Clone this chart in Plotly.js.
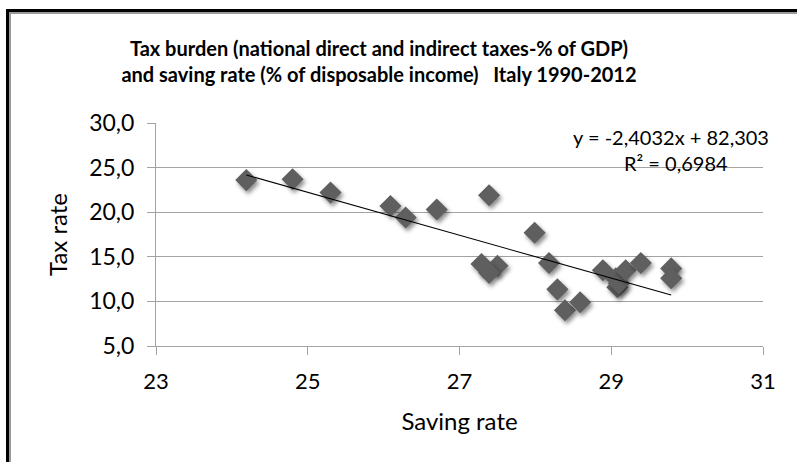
<!DOCTYPE html>
<html>
<head>
<meta charset="utf-8">
<script src="https://cdn.plot.ly/plotly-3.0.1.min.js"></script>
<style>
  html, body { margin: 0; padding: 0; background: #fff; }
  #wrap { position: relative; width: 797px; height: 462px; overflow: hidden; }
  #chart { position: absolute; left: 0; top: 0; width: 797px; height: 462px; }
  #frameOuter { position: absolute; left: 6px; top: 9px; right: -10px; bottom: -10px;
    border-left: 3px solid #000; border-top: 3px solid #000; pointer-events: none; }
  #frameInner { position: absolute; left: 9px; top: 12px; right: -10px; bottom: -10px;
    border-left: 2px solid #9a9a9a; border-top: 2px solid #9a9a9a; pointer-events: none; }
  .scatterlayer .points path { filter: drop-shadow(2px 3px 2px rgba(0,0,0,0.45)); }
</style>
</head>
<body>
<div id="wrap">
  <div id="chart"></div>
  <div id="frameOuter"></div>
  <div id="frameInner"></div>
</div>
<script>
// Saving rate (% of disposable income) and tax burden (% of GDP), Italy 1990-2012
const savingRate = [24.19, 24.80, 25.30, 26.09, 26.29, 26.70, 27.39, 27.29, 27.50, 27.39, 27.99, 28.18,
                    28.29, 28.39, 28.59, 28.89, 29.06, 29.08, 29.10, 29.19, 29.39, 29.79, 29.79];
const taxRate    = [23.6, 23.7, 22.2, 20.7, 19.4, 20.3, 21.9, 14.2, 14.0, 13.2, 17.7, 14.3,
                    11.35, 9.0, 9.9, 13.5, 12.6, 11.6, 12.0, 13.5, 14.3, 13.7, 12.6];
// Linear trendline as printed on the chart
const trendSlope = -2.4032;
const trendIntercept = 82.303;
const equationLines = ["y = -2,4032x + 82,303", "R² = 0,6984"];
const titleLines = ["Tax burden (national direct and indirect taxes-% of GDP)",
                    "and saving rate (% of disposable income)   Italy 1990-2012"];
const xTitle = "Saving rate";
const yTitle = "Tax rate";

const xMin = Math.min(...savingRate), xMax = Math.max(...savingRate);
const trendX = [xMin, xMax];
const trendY = trendX.map(v => trendSlope * v + trendIntercept);

const FONT = "Lato, 'Open Sans', sans-serif";
const gridCol = "#a3a3a3";

const traces = [
  {
    x: savingRate, y: taxRate, type: "scatter", mode: "markers",
    marker: { symbol: "diamond", size: 17, color: "#5f5f5f", line: { width: 0 } },
    hoverinfo: "x+y", showlegend: false
  },
  {
    x: trendX, y: trendY, type: "scatter", mode: "lines",
    line: { color: "#000", width: 1.1 }, hoverinfo: "skip", showlegend: false
  }
];

const layout = {
  width: 797, height: 462,
  paper_bgcolor: "#fff", plot_bgcolor: "#fff",
  margin: { l: 156, r: 34, t: 123, b: 116, pad: 0 },
  separators: ",.",
  font: { family: FONT, color: "#000" },
  title: {
    text: titleLines.join("<br>"),
    font: { family: FONT, size: 20, weight: "bold", color: "#000" },
    xref: "container", x: 379 / 797, xanchor: "center",
    yref: "container", y: 1 - 56 / 462, yanchor: "top"
  },
  xaxis: {
    range: [23, 31], dtick: 2, tick0: 23,
    showgrid: false, zeroline: false,
    showline: true, linecolor: gridCol, linewidth: 1,
    ticks: "outside", ticklen: 8, tickcolor: gridCol, tickwidth: 1,
    tickfont: { family: FONT, size: 22, color: "#000" },
    ticklabelstandoff: 8,
    title: { text: xTitle, font: { family: FONT, size: 24, color: "#000" }, standoff: 19 }
  },
  yaxis: {
    range: [5, 30], dtick: 5, tick0: 5, tickformat: ".1f",
    showgrid: true, gridcolor: gridCol, gridwidth: 1, zeroline: false,
    showline: true, linecolor: gridCol, linewidth: 1,
    ticks: "outside", ticklen: 8, tickcolor: gridCol, tickwidth: 1,
    tickfont: { family: FONT, size: 23, color: "#000" },
    ticklabelstandoff: 8,
    title: { text: yTitle, font: { family: FONT, size: 24, color: "#000" }, standoff: 14 }
  },
  annotations: [
    { text: equationLines[0], xref: "paper", yref: "paper",
      x: (671 - 156) / 607, y: 1 - (136.5 - 123) / 223, xanchor: "center", yanchor: "middle",
      showarrow: false, font: { family: FONT, size: 20, color: "#000" } },
    { text: equationLines[1], xref: "paper", yref: "paper",
      x: (676 - 156) / 607, y: 1 - (162.5 - 123) / 223, xanchor: "center", yanchor: "middle",
      showarrow: false, font: { family: FONT, size: 20, color: "#000" } }
  ],
  showlegend: false
};

Plotly.newPlot("chart", traces, layout, { displayModeBar: false, staticPlot: true });
</script>
</body>
</html>
